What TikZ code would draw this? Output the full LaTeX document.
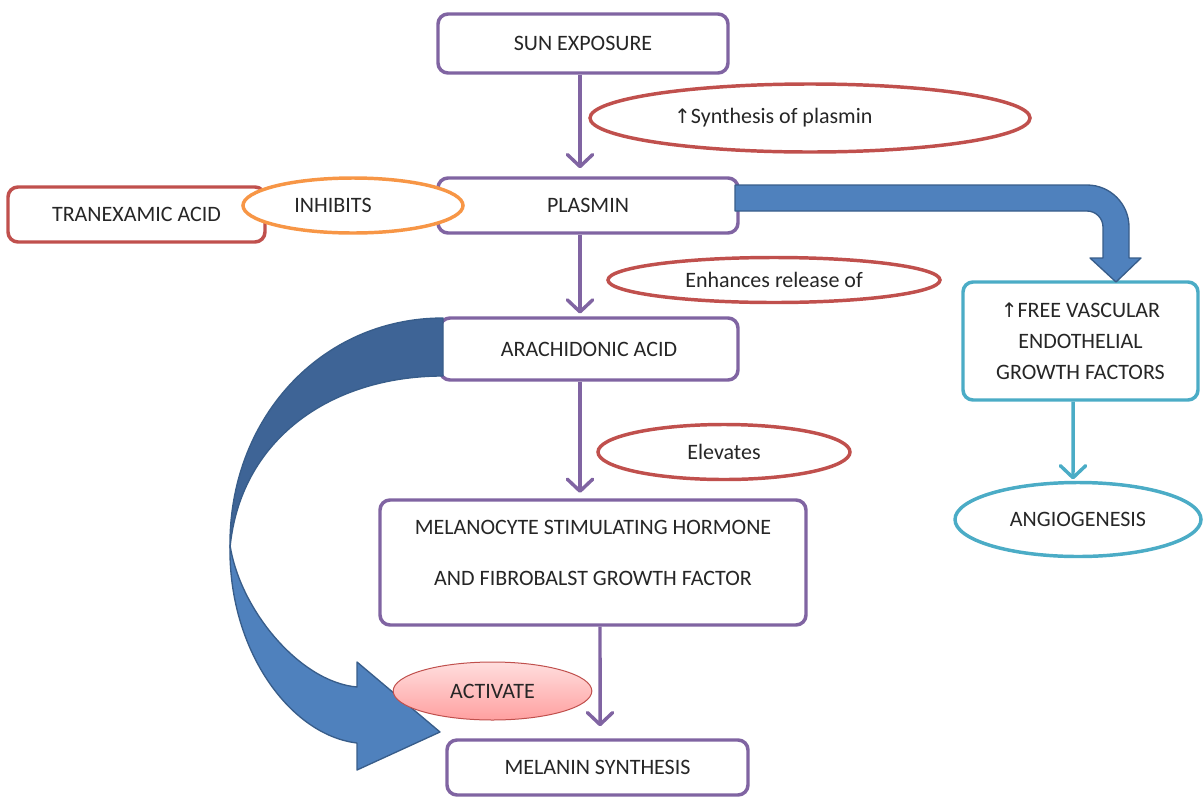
\documentclass[tikz,border=0pt]{standalone}
\usepackage{fontspec}
\setmainfont{Carlito}
\newfontfamily\symfont{DejaVu Sans}
\usetikzlibrary{shapes.geometric,arrows.meta}
\definecolor{cpurple}{HTML}{8064A2}
\definecolor{cred}{HTML}{C0504D}
\definecolor{corange}{HTML}{F79646}
\definecolor{cteal}{HTML}{4BACC6}
\definecolor{cblue}{HTML}{4F81BD}
\definecolor{cdark}{HTML}{3E6496}
\definecolor{cdblue}{HTML}{385D8A}
\definecolor{pinktop}{RGB}{255,222,222}
\definecolor{pinkbot}{RGB}{255,160,160}
\newcommand{\up}{{\symfont\fontsize{15}{15}\selectfont ↑}}
\tikzset{
  base/.style={font=\fontsize{16.5}{20}\selectfont, text=black!85},
  pbox/.style={base, draw=cpurple, line width=2.6pt, rounded corners=7.5pt, fill=white, inner sep=0pt},
  rbox/.style={pbox, draw=cred},
  tbox/.style={pbox, draw=cteal},
  oval/.style={base, ellipse, line width=2.6pt, fill=white, inner sep=0pt},
  parrow/.style={draw=cpurple, line width=2.6pt, -{Straight Barb[length=9pt,width=19pt,round]}},
  tarrow/.style={parrow, draw=cteal},
  bigarrow/.style={draw=cdblue, line width=1pt, line join=round},
}
\begin{document}
\begin{tikzpicture}[x=0.75pt, y=-0.75pt]
\useasboundingbox (0,0) rectangle (1203,797);

% boxes
\node[pbox, minimum width=217.5pt, minimum height=44.25pt] (sun) at (583,43.5) {SUN EXPOSURE};
\node[rbox, minimum width=192.75pt, minimum height=41.25pt] (tran) at (136.5,214.5) {TRANEXAMIC ACID};
\node[pbox, minimum width=225pt, minimum height=41.25pt] (plasmin) at (588,205.5) {PLASMIN};
\node[oval, draw=corange, minimum width=165pt, minimum height=41.25pt] (inhib) at (353,205.5) {INHIBITS\hspace*{30pt}};
\node[oval, draw=cred, minimum width=330pt, minimum height=51pt] (synth) at (810,118) {\up Synthesis of plasmin\hspace*{55pt}};
\node[oval, draw=cred, minimum width=249pt, minimum height=33.75pt] (enh) at (774,280) {Enhances release of};
\node[pbox, minimum width=223.5pt, minimum height=46.5pt] (arach) at (589,349) {ARACHIDONIC ACID};
\node[tbox, minimum width=176.25pt, minimum height=88.5pt, align=center, font=\fontsize{16.5}{23.25}\selectfont] (free) at (1080.5,341) {\up FREE VASCULAR\\ENDOTHELIAL\\GROWTH FACTORS};
\node[oval, draw=cteal, minimum width=184.5pt, minimum height=55.5pt] (angio) at (1078,519.5) {ANGIOGENESIS};
\node[oval, draw=cred, minimum width=189pt, minimum height=41.25pt] (elev) at (724,452) {Elevates};
\node[pbox, minimum width=319.5pt, minimum height=93.75pt] (mel) at (593,562.5) {};
\node[base, align=center, font=\fontsize{16.5}{38.25}\selectfont] (meltext) at (593,552.5) {MELANOCYTE STIMULATING HORMONE\\AND FIBROBALST GROWTH FACTOR};
\node[pbox, minimum width=225.75pt, minimum height=41.25pt] (melanin) at (597.5,767.5) {MELANIN SYNTHESIS};

% purple arrows
\draw[parrow, shorten >=6pt] ([xshift=-2.25pt]sun.south) -- ([xshift=-6pt]plasmin.north);
\draw[parrow, shorten >=2pt] ([xshift=-6pt]plasmin.south) -- ([xshift=-6.75pt]arach.north);
\draw[parrow, shorten >=4pt] ([xshift=-6.75pt]arach.south) -- ([xshift=-9.75pt]mel.north);
\draw[parrow, shorten >=9pt] ([xshift=5.25pt]mel.south) -- ([xshift=1.9pt]melanin.north);
\draw[tarrow, shorten >=1pt] ([xshift=-5.6pt]free.south) -- ([xshift=-3.75pt]angio.north);

% block arrow plasmin -> free vascular
\filldraw[bigarrow, fill=cblue] (735,185) -- (1087,185) .. controls (1110.2,185) and (1129,203.8) .. (1129,227)
  -- (1129,258) -- (1141,258) -- (1116,282) -- (1090,258) -- (1103,258) -- (1103,227)
  .. controls (1103,218.2) and (1095.8,211) .. (1087,211) -- (735,211) -- cycle;

% curved block arrow arachidonic -> melanin
\filldraw[bigarrow, fill=cdark] (443,318) .. controls (320,318) and (228,420) .. (230,548)
  .. controls (240,440) and (330,376) .. (443,376) -- cycle;
\filldraw[bigarrow, fill=cblue] (230,545) .. controls (228,650) and (290,735) .. (357,743)
  -- (357,770) -- (440,732) -- (357,662) -- (357,687)
  .. controls (300,682) and (240,610) .. (230,545) -- cycle;

\node[base, ellipse, inner sep=0pt, draw=cred, line width=0.75pt, top color=pinktop, bottom color=pinkbot, minimum width=149pt, minimum height=43.5pt] (act) at (492.5,691) {ACTIVATE};
\end{tikzpicture}
\end{document}
